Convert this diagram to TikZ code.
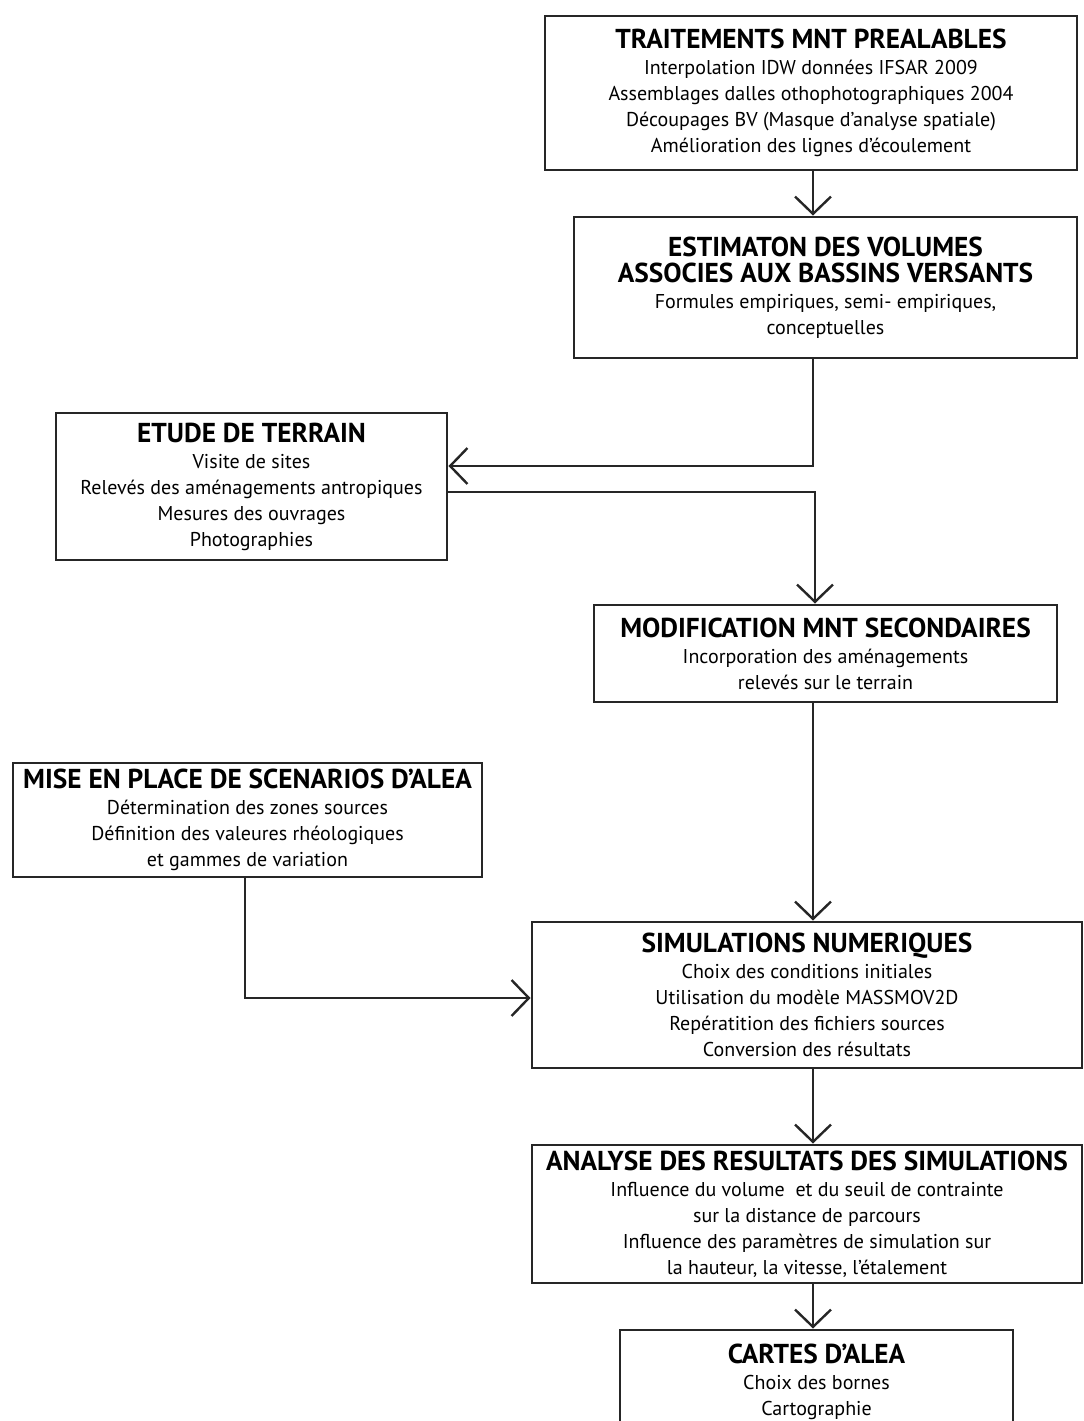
\documentclass[tikz,border=0pt]{standalone}
\usepackage{fontspec}
\setmainfont{PT Sans}
\usetikzlibrary{arrows.meta,calc}
\newcommand{\ttl}{\fontsize{20.5}{25}\selectfont\bfseries}
\newcommand{\bdy}{\fontsize{15}{19.5}\selectfont}
\begin{document}
\begin{tikzpicture}[x=0.75pt,y=-0.75pt,
  box/.style={draw=black!85,line width=2.2pt,rectangle,align=center,inner sep=0pt,font=\bdy},
  conn/.style={draw=black!85,line width=1.8pt,-{Straight Barb[length=13pt,width=27pt]}}]
\path[use as bounding box,clip] (0,0) rectangle (1084,1421);
\fill[white] (0,0) rectangle (1084,1421);
\node[box,minimum width=532*0.75pt,minimum height=154*0.75pt] (b1) at (811,93)
 {{\ttl TRAITEMENTS MNT PREALABLES}\\
 Interpolation IDW données IFSAR 2009\\
 Assemblages dalles othophotographiques 2004\\
 Découpages BV (Masque d'analyse spatiale)\\
 Amélioration des lignes d'écoulement};
\node[box,minimum width=503*0.75pt,minimum height=141*0.75pt] (b2) at (825.5,287.5)
 {{\ttl ESTIMATON DES VOLUMES}\\
 {\ttl ASSOCIES AUX BASSINS VERSANTS}\\
 Formules empiriques, semi- empiriques,\\
 conceptuelles};
\node[box,minimum width=391*0.75pt,minimum height=147*0.75pt] (b3) at (251.5,486.5)
 {{\ttl ETUDE DE TERRAIN}\\
 Visite de sites\\
 Relevés des aménagements antropiques\\
 Mesures des ouvrages\\
 Photographies};
\node[box,minimum width=463*0.75pt,minimum height=97*0.75pt] (b4) at (825.5,653.5)
 {{\ttl MODIFICATION MNT SECONDAIRES}\\
 Incorporation des aménagements\\
 relevés sur le terrain};
\node[box,minimum width=469*0.75pt,minimum height=114*0.75pt] (b6) at (247.5,820)
 {{\ttl MISE EN PLACE DE SCENARIOS D'ALEA}\\
 Détermination des zones sources\\
 Définition des valeures rhéologiques\\
 et gammes de variation};
\node[box,minimum width=550*0.75pt,minimum height=146*0.75pt] (b5) at (807,995)
 {{\ttl SIMULATIONS NUMERIQUES}\\
 Choix des conditions initiales\\
 Utilisation du modèle MASSMOV2D\\
 Repératition des fichiers sources\\
 Conversion des résultats};
\node[box,minimum width=550*0.75pt,minimum height=138*0.75pt] (b7) at (807,1214)
 {{\ttl ANALYSE DES RESULTATS DES SIMULATIONS}\\
 Influence du volume\ \ et du seuil de contrainte\\
 sur la distance de parcours\\
 Influence des paramètres de simulation sur\\
 la hauteur, la vitesse, l'étalement};
\node[box,minimum width=393*0.75pt,minimum height=104*0.75pt] (b8) at (816.5,1382)
 {{\ttl CARTES D'ALEA}\\
 Choix des bornes\\
 Cartographie};
\coordinate (x1) at (813,0);
\coordinate (k1) at (813,466);
\coordinate (k2) at (815,492);
\coordinate (k3) at (245,998);
\draw[conn] (b1.south -| x1) -- (b2.north -| x1);
\draw[conn] (b2.south -| k1) -- (k1) -- (k1 -| b3.east);
\draw[conn] (b3.east |- k2) -- (k2) -- (b4.north -| k2);
\draw[conn] (b4.south -| x1) -- (b5.north -| x1);
\draw[conn] (b6.south -| k3) -- (k3) -- (k3 -| b5.west);
\draw[conn] (b5.south -| x1) -- (b7.north -| x1);
\draw[conn] (b7.south -| x1) -- (b8.north -| x1);
\end{tikzpicture}
\end{document}
